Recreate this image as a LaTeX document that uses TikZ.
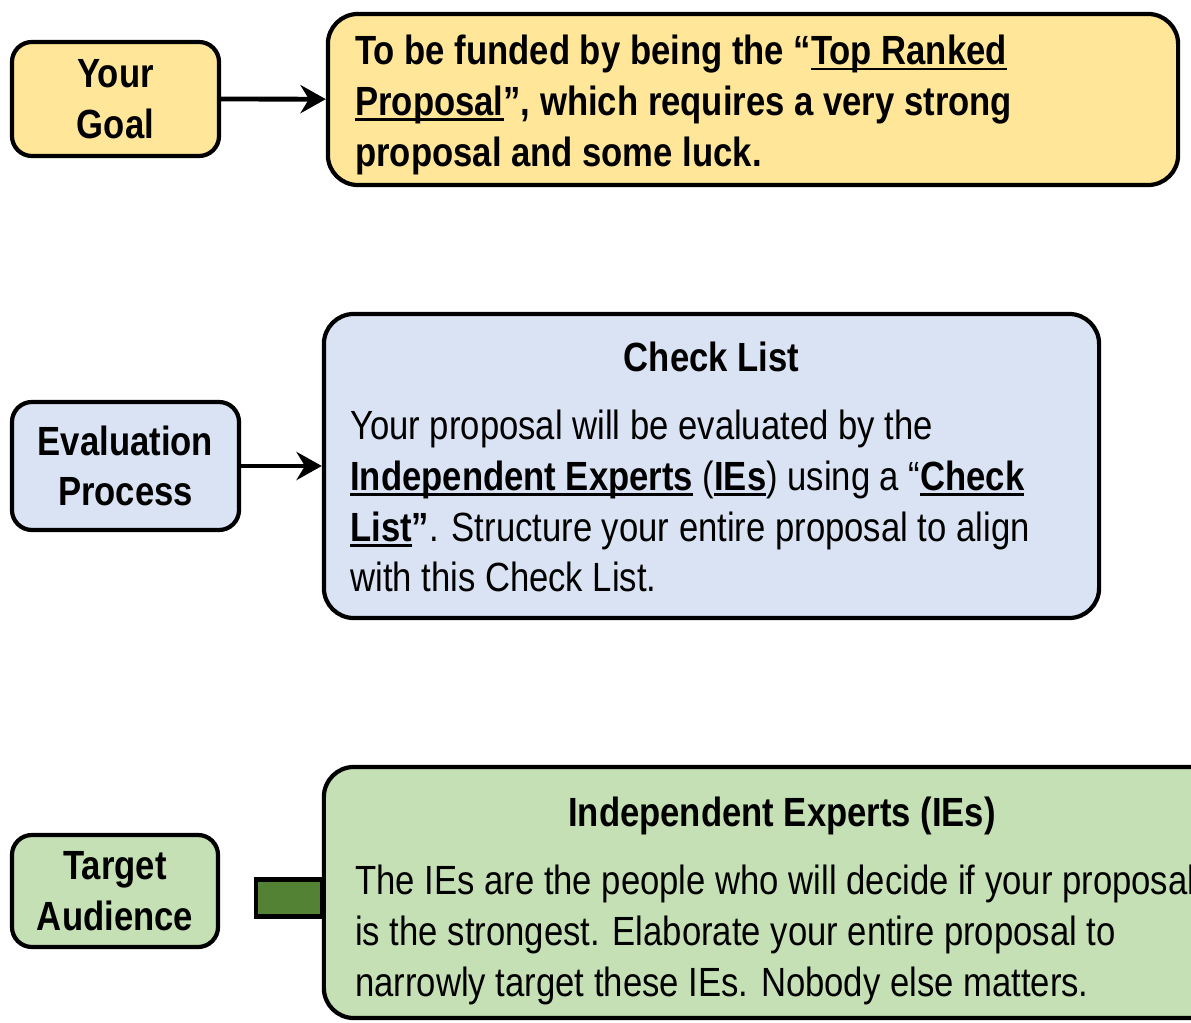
\documentclass[tikz,border=0pt]{standalone}
\usepackage{fontspec}
\setmainfont{Liberation Sans}[FakeStretch=0.85]
\usetikzlibrary{arrows.meta}
\definecolor{goalyellow}{HTML}{FFE699}
\definecolor{evalblue}{HTML}{DAE3F3}
\definecolor{audgreen}{HTML}{C5E0B4}
\definecolor{stubgreen}{HTML}{548235}
\newcommand{\undl}[1]{\setbox0=\hbox{#1}\rlap{\rule[-4pt]{\wd0}{2pt}}\box0}

\begin{document}
\begin{tikzpicture}[x=0.025cm, y=-0.025cm,
  txt/.style={font=\fontsize{29}{36}\selectfont, inner sep=0pt},
  tagbox/.style={txt, font=\fontsize{29}{36}\selectfont\bfseries, draw=black, line width=3pt, rounded corners=0.5cm, align=center},
  bigbox/.style={draw=black, line width=3pt, rounded corners=0.75cm, inner sep=0pt},
  flowarrow/.style={line width=3.4pt, -{Stealth[length=18pt, width=20pt, inset=6pt]}}]
\useasboundingbox (0,0) rectangle (1191,1023);
\clip (0,0) rectangle (1191,1023);

% goal
\node[tagbox, fill=goalyellow, minimum width=5.175cm, minimum height=2.85cm] (goal) at (115.5,99) {Your\\Goal};
\node[bigbox, fill=goalyellow, minimum width=21.25cm, minimum height=4.275cm] (aim) at (753,99.5) {};
\node[txt, font=\fontsize{29}{36}\selectfont\bfseries, align=left, anchor=north west] (aimtext) at (355,35)
  {To be funded by being the “\undl{Top Ranked}\\
   \undl{Proposal}”, which requires a very strong\\
   proposal and some luck.};
\draw[flowarrow] (goal) -- (aim);

% evaluation
\node[tagbox, fill=evalblue, minimum width=5.675cm, minimum height=3.2cm] (eval) at (125.5,466) {Evaluation\\Process};
\node[bigbox, fill=evalblue, minimum width=19.375cm, minimum height=7.6cm] (check) at (711.5,466) {};
\node[txt, font=\fontsize{29}{36}\selectfont\bfseries, anchor=base] (checktitle) at (711.5,372) {Check List};
\node[txt, align=left, anchor=north west] (checktext) at (350,410)
  {Your proposal will be evaluated by the\\
   \textbf{\undl{Independent Experts}} (\textbf{\undl{IEs}}) using a “\textbf{\undl{Check}}\\
   \textbf{\undl{List}”}. Structure your entire proposal to align\\
   with this Check List.};
\draw[flowarrow] (eval) -- (check);

% audience
\node[tagbox, fill=audgreen, minimum width=5.15cm, minimum height=2.8cm] (target) at (115,891) {Target\\Audience};
\node[bigbox, fill=audgreen, minimum width=24.4cm, minimum height=6.275cm] (experts) at (812,892.5) {};
\node[draw=black, line width=3pt, fill=stubgreen, minimum width=1.65cm, minimum height=0.925cm, inner sep=0pt, anchor=east] (stub) at (324,898) {};
\node[txt, font=\fontsize{29}{36}\selectfont\bfseries, anchor=base] (expertstitle) at (782,826) {Independent Experts (IEs)};
\node[txt, align=left, anchor=north west] (expertstext) at (355,865)
  {The IEs are the people who will decide if your proposal\\
   is the strongest. Elaborate your entire proposal to\\
   narrowly target these IEs. Nobody else matters.};
\end{tikzpicture}
\end{document}
